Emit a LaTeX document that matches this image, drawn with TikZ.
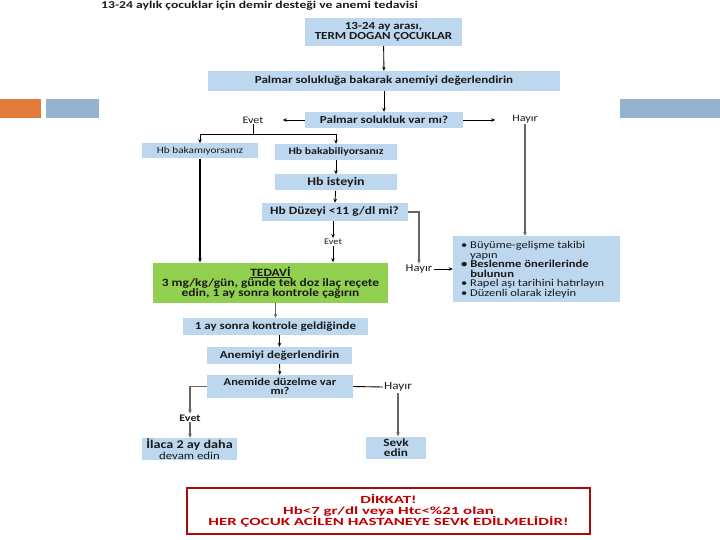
\documentclass[tikz,border=0pt]{standalone}
\usepackage{fontspec}
\setmainfont{Carlito}[FakeStretch=1.2]
\newfontfamily\titlefont{Carlito}[FakeStretch=1.3]
\newfontfamily\alertfont{Carlito}[FakeStretch=1.55]
\usetikzlibrary{arrows.meta}
\definecolor{boxblue}{HTML}{BDD7EE}
\definecolor{boxgreen}{HTML}{92D050}
\definecolor{alertred}{HTML}{C00000}
\definecolor{borderred}{HTML}{A50D0D}
\definecolor{decoorange}{HTML}{E07B39}
\definecolor{decoblue}{HTML}{94B3D0}
\definecolor{txt}{HTML}{1A1A1A}
\begin{document}
\begin{tikzpicture}[x=1pt,y=-1pt,
  bx/.style={fill=boxblue, inner sep=0pt, text=txt, align=center,
    font=\bfseries\fontsize{10.8}{11}\selectfont},
  lbl/.style={inner sep=1pt, text=txt, font=\fontsize{10}{10}\selectfont},
  arr/.style={-{Stealth[length=4pt,width=3.5pt]}, line width=0.9pt, black},
  garr/.style={-{Stealth[length=4pt,width=3.5pt]}, line width=1.4pt, black!60},
  ln/.style={line width=0.9pt, black}]
\useasboundingbox (0,0) rectangle (720,540);
% decorations
\fill[decoorange] (0,99) rectangle (41,118);
\fill[decoblue] (46,99) rectangle (99,118);
\fill[decoblue] (620,99) rectangle (720,118);
% title
\node[anchor=base west, inner sep=0pt, font=\titlefont\bfseries\fontsize{10.5}{12}\selectfont, text=txt] (title) at (101,9) {13-24 aylık çocuklar için demir desteği ve anemi tedavisi};
% boxes
\node[bx, minimum width=157, minimum height=28, font=\bfseries\fontsize{10.8}{10.5}\selectfont] (b1) at (383.5,32) {13-24 ay arası,\\TERM DOGAN ÇOCUKLAR};
\node[bx, minimum width=352, minimum height=20] (b2) at (384,81) {Palmar solukluğa bakarak anemiyi değerlendirin};
\node[bx, minimum width=158, minimum height=16] (b3) at (384,120) {Palmar solukluk var mı?};
\node[lbl] (evet1) at (253,120) {Evet};
\node[lbl] (hayir1) at (525,119) {Hayır};
\node[bx, font=\fontsize{9.4}{9}\selectfont, minimum width=116, minimum height=15] (b4) at (200,151) {Hb bakamıyorsanız};
\node[bx, font=\bfseries\fontsize{9.8}{10}\selectfont, minimum width=122, minimum height=16] (b5) at (336,152) {Hb bakabiliyorsanız};
\node[bx, font=\bfseries\fontsize{11.6}{11}\selectfont, minimum width=122, minimum height=16] (b6) at (336,182.5) {Hb isteyin};
\node[bx, font=\bfseries\fontsize{11.2}{11}\selectfont, minimum width=146, minimum height=18] (b7) at (334.5,212) {Hb Düzeyi <11 g/dl mi?};
\node[lbl, font=\fontsize{8.6}{9}\selectfont] (evet2) at (333,242) {Evet};
\node[lbl, font=\fontsize{10.5}{10}\selectfont] (hayir2) at (419,269) {Hayır};
\node[fill=boxblue, minimum width=167, minimum height=66, inner sep=0pt] (bul) at (536.5,269) {};
\node[anchor=north west, inner sep=0pt, text=txt, align=left, font=\fontsize{10.4}{9.6}\selectfont] (bultxt) at (461,241)
  {• Büyüme-gelişme takibi\\\phantom{• }yapın\\
   {\bfseries\fontsize{10.5}{9.6}\selectfont • Beslenme önerilerinde}\\{\bfseries\fontsize{10.5}{9.6}\selectfont\phantom{• }bulunun}\\
   • Rapel aşı tarihini hatırlayın\\• Düzenli olarak izleyin};
\node[fill=boxgreen, minimum width=235, minimum height=40, inner sep=0pt, text=txt, align=center,
  font=\bfseries\fontsize{11.2}{10}\selectfont] (tedavi) at (270.5,282.5)
  {\underline{TEDAVİ}\\3 mg/kg/gün, günde tek doz ilaç reçete\\edin, 1 ay sonra kontrole çağırın};
\node[bx, minimum width=185, minimum height=17] (b8) at (275.5,326.5) {1 ay sonra kontrole geldiğinde};
\node[bx, minimum width=145, minimum height=17] (b9) at (279.5,355.5) {Anemiyi değerlendirin};
\node[bx, font=\bfseries\fontsize{10.4}{9.2}\selectfont, minimum width=146, minimum height=23] (b10) at (280,386.5) {Anemide düzelme var\\mı?};
\node[lbl, font=\bfseries\fontsize{10}{10}\selectfont] (evet3) at (190,418) {Evet};
\node[lbl, font=\fontsize{11}{10}\selectfont] (hayir3) at (398,387) {Hayır};
\node[bx, font=\bfseries\fontsize{11.8}{10.5}\selectfont, minimum width=95, minimum height=22] (b11) at (189.5,449) {İlaca 2 ay daha\\{\mdseries\fontsize{10.7}{10.5}\selectfont devam edin}};
\node[bx, font=\bfseries\fontsize{11}{10.5}\selectfont, minimum width=60, minimum height=22] (b12) at (396,447.5) {Sevk\\edin};
% alert box
\node[draw=borderred, line width=2.5pt, fill=white, minimum width=403, minimum height=46, inner sep=0pt,
  text=alertred, align=center, font=\alertfont\bfseries\fontsize{10.9}{11}\selectfont] (alert) at (388.5,511)
  {DİKKAT!\\Hb<7 gr/dl veya Htc<\%21 olan\\HER ÇOCUK ACİLEN HASTANEYE SEVK EDİLMELİDİR!};
% connectors
\draw[arr] (b1) -- (b2);
\draw[arr] (b2) -- (b3);
\draw[arr] (b3.west) -- ++(-22,0) coordinate (e1);
\draw[arr] (b3.east) -- ++(32,0) coordinate (h1);
\coordinate (jn) at (253,134);
\draw[ln] (evet1.south) -- (jn);
\draw[ln] (b4.north |- jn) -- (b5.north |- jn);
\draw[arr] (b4.north |- jn) -- (b4.north);
\draw[arr] (b5.north |- jn) -- (b5.north);
\draw[arr, line width=1.4pt] (b4.south) -- (b4.south |- tedavi.north);
\draw[arr] (b5) -- (b6);
\draw[arr] (b6) -- (b7);
\draw[arr] (b7.south -| evet2) -- (evet2.north);
\draw[arr] (evet2.south) -- (evet2.south |- tedavi.north);
\draw[garr] (b7.east) -- (b7.east -| hayir2.north) -- (hayir2.north);
\draw[arr] (hayir2.east) -- (bul.west |- hayir2.east);
\draw[garr] (hayir1.south) -- (hayir1.south |- bul.north);
\draw[garr] (tedavi.south -| b8.north) -- (b8.north);
\draw[arr] (b8.south -| b9.north) -- (b9.north);
\draw[arr] (b9) -- (b10);
\draw[garr] (b10.west) -- (b10.west -| evet3.north) -- (evet3.north);
\draw[garr] (evet3.south) -- (evet3.south |- b11.north);
\draw[ln] (b10.east) -- (hayir3.west);
\draw[garr] (hayir3.south) -- (hayir3.south |- b12.north);
\end{tikzpicture}
\end{document}
